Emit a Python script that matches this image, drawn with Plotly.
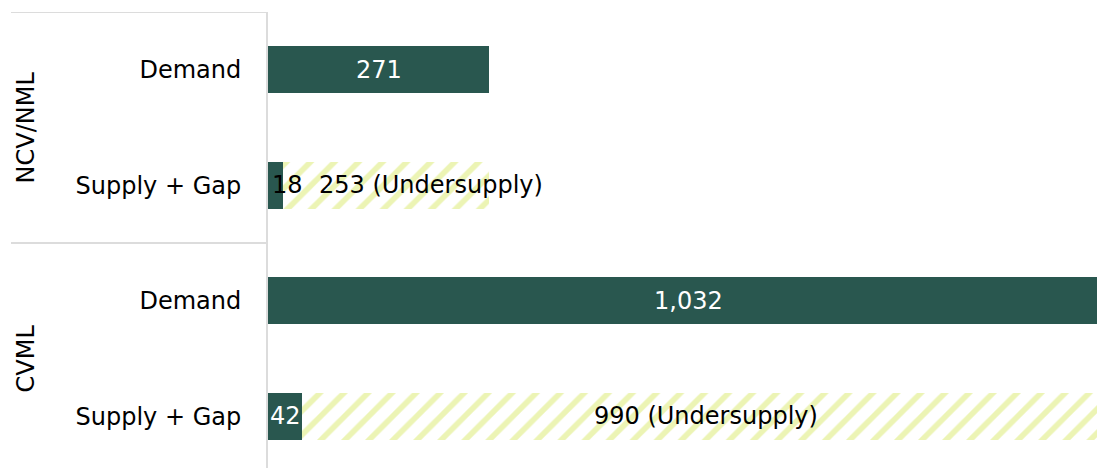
import plotly.graph_objects as go

groups = ["NCV/NML", "NCV/NML", "CVML", "CVML"]
categories = ["Demand", "Supply + Gap", "Demand", "Supply + Gap"]
demand = [271, None, 1032, None]
supply = [None, 18, None, 42]
gap = [None, 253, None, 990]
gap_labels = ["", "253 (Undersupply)", "", "990 (Undersupply)"]
group_names = ["NCV/NML", "CVML"]

DARK = "#29574f"
STRIPE = "#ecf4b4"
GRID = "#dcdcdc"
FONT = "DejaVu Sans"
FS = 24

ypos = list(range(len(categories)))

fig = go.Figure()

fig.add_trace(go.Bar(
    y=ypos, x=demand, orientation="h", marker=dict(color=DARK, line=dict(width=0)),
    showlegend=False, hoverinfo="skip"))

fig.add_trace(go.Bar(
    y=ypos, x=supply, orientation="h", marker=dict(color=DARK, line=dict(width=0)),
    showlegend=False, hoverinfo="skip"))

fig.add_trace(go.Bar(
    y=ypos, x=gap, orientation="h",
    marker=dict(color="white", line=dict(width=0),
                pattern=dict(shape="/", fgcolor=STRIPE, bgcolor="white", size=17,
                             solidity=0.33, fillmode="replace")),
    showlegend=False, hoverinfo="skip"))

annotations = []


def label(x, y, text, color, anchor="center", shift=0):
    annotations.append(dict(x=x, y=y, xref="x", yref="y", text=text, showarrow=False,
                            xanchor=anchor, xshift=shift,
                            font=dict(size=FS, family=FONT, color=color)))


for i in ypos:
    if demand[i]:
        label(demand[i] / 2, i, f"{demand[i]:,}", "white")
    if supply[i]:
        if supply[i] < 30:
            label(0, i, f"{supply[i]:,}", "black", "left", 2)
        else:
            label(supply[i] / 2, i, f"{supply[i]:,}", "white")
    if gap[i]:
        s = supply[i] or 0
        if gap[i] < 500:
            label(s, i, gap_labels[i], "black", "left", 34)
        else:
            label(s + gap[i] / 2, i, gap_labels[i], "black")

for gname in group_names:
    idx = [i for i, g in enumerate(groups) if g == gname]
    center = sum(idx) / len(idx)
    annotations.append(dict(x=-0.292, y=center, xref="paper", yref="y", text=gname,
                            showarrow=False, textangle=-90, xanchor="center",
                            font=dict(size=FS, family=FONT, color="black")))

shapes = []
boundaries = [-0.5] + [i + 0.5 for i in range(len(groups) - 1) if groups[i] != groups[i + 1]]
for b in boundaries:
    shapes.append(dict(type="line", xref="paper", yref="y", x0=-0.31, x1=-0.001,
                       y0=b, y1=b, line=dict(color=GRID, width=2)))

slot_px = 115.5
plot_h = 468 - 12
fig.update_layout(
    width=1097, height=468,
    margin=dict(l=268, r=0, t=12, b=0),
    paper_bgcolor="white", plot_bgcolor="white",
    barmode="stack", bargap=0.593,
    xaxis=dict(range=[0, 829 / 0.8155], showgrid=False, zeroline=False,
               showticklabels=False, ticks=""),
    yaxis=dict(range=[-0.5 + plot_h / slot_px, -0.5], tickvals=ypos, ticktext=categories,
               showgrid=False, zeroline=False, showline=True, linecolor=GRID,
               linewidth=2, ticks="", ticklabelstandoff=20,
               tickfont=dict(size=FS, family=FONT, color="black")),
    annotations=annotations, shapes=shapes,
)

fig.write_html("out.html")
